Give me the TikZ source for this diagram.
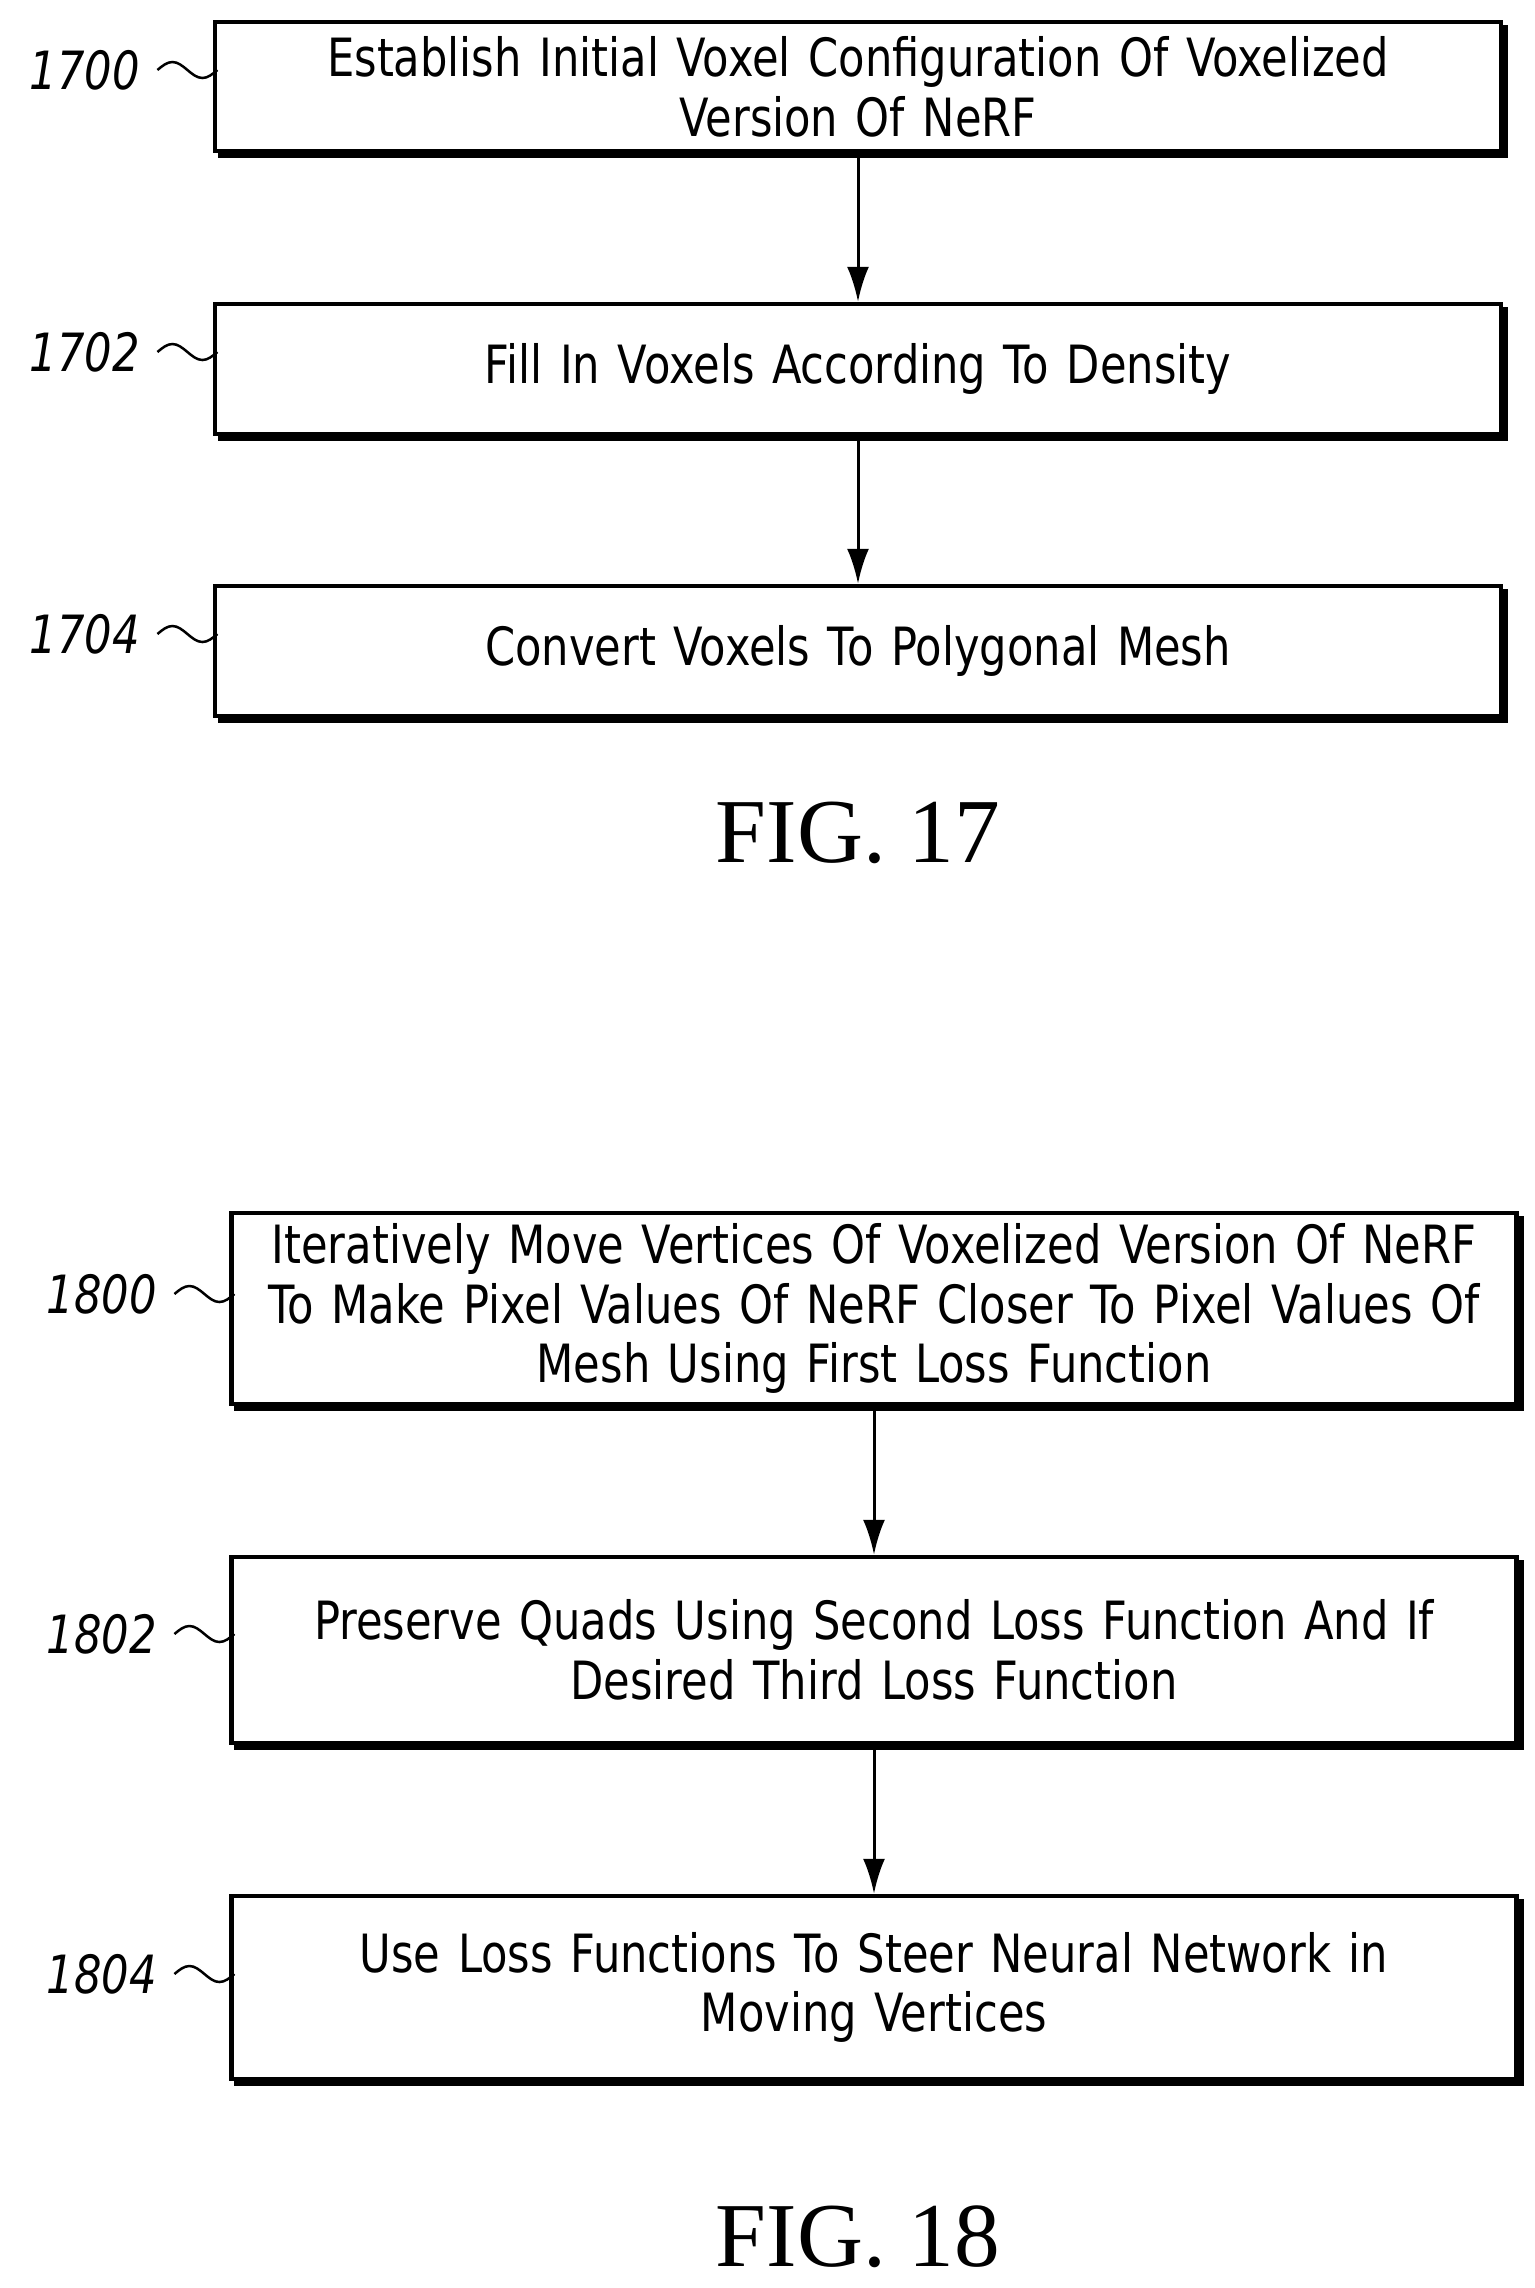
\documentclass[tikz,border=0pt]{standalone}
\usepackage{fontspec}
\setmainfont{DejaVu Sans}[FakeStretch=0.82]
\newfontfamily\figfont{Liberation Serif}
\usetikzlibrary{arrows.meta}

\begin{document}
\begin{tikzpicture}[
  stepbox/.style={draw, line width=0.045cm, fill=white, text width=12.2cm, align=center,
    font=\fontsize{15}{17}\selectfont, inner sep=0pt,
    preaction={draw, fill=black, line width=0.045cm, transform canvas={xshift=0.05cm, yshift=-0.05cm}}},
  flow/.style={line width=0.03cm, -{Latex[length=0.35cm, width=0.22cm]}},
  tag/.style={font=\fontsize{15}{17}\selectfont\itshape},
  squig/.style={line width=0.025cm},
  caption/.style={font=\figfont\fontsize{26}{30}\selectfont}
]
\useasboundingbox (0,0) rectangle (15.35,-22.88);

% FIG. 17
\node[stepbox, minimum width=12.86cm, minimum height=1.29cm] (s1700) at (8.58,-0.865) {Establish Initial Voxel Configuration Of Voxelized\\Version Of NeRF};
\node[stepbox, minimum width=12.86cm, minimum height=1.30cm] (s1702) at (8.58,-3.69) {Fill In Voxels According To Density};
\node[stepbox, minimum width=12.86cm, minimum height=1.30cm] (s1704) at (8.58,-6.51) {Convert Voxels To Polygonal Mesh};

\draw[flow] (s1700) -- (s1702);
\draw[flow] (s1702) -- (s1704);

\node[tag] (t1700) at (0.85,-0.70) {1700};
\node[tag] (t1702) at (0.85,-3.52) {1702};
\node[tag] (t1704) at (0.85,-6.34) {1704};
\foreach \t in {1700,1702,1704}
  \draw[squig] (t\t.east) ++(0.05,0) sin ++(0.15,0.08) cos ++(0.15,-0.08) sin ++(0.15,-0.08) cos ++(0.15,0.08);

\node[caption] (fig17) at (8.58,-8.33) {FIG. 17};

% FIG. 18
\node[stepbox, minimum width=12.85cm, minimum height=1.91cm] (s1800) at (8.74,-13.085) {Iteratively Move Vertices Of Voxelized Version Of NeRF\\To Make Pixel Values Of NeRF Closer To Pixel Values Of\\Mesh Using First Loss Function};
\node[stepbox, minimum width=12.85cm, minimum height=1.86cm] (s1802) at (8.74,-16.50) {Preserve Quads Using Second Loss Function And If\\Desired Third Loss Function};
\node[stepbox, minimum width=12.85cm, minimum height=1.83cm] (s1804) at (8.74,-19.875) {Use Loss Functions To Steer Neural Network in\\Moving Vertices};

\draw[flow] (s1800) -- (s1802);
\draw[flow] (s1802) -- (s1804);

\node[tag] (t1800) at (1.02,-12.94) {1800};
\node[tag] (t1802) at (1.02,-16.34) {1802};
\node[tag] (t1804) at (1.02,-19.74) {1804};
\foreach \t in {1800,1802,1804}
  \draw[squig] (t\t.east) ++(0.05,0) sin ++(0.15,0.08) cos ++(0.15,-0.08) sin ++(0.15,-0.08) cos ++(0.15,0.08);

\node[caption] (fig18) at (8.58,-22.37) {FIG. 18};
\end{tikzpicture}
\end{document}
